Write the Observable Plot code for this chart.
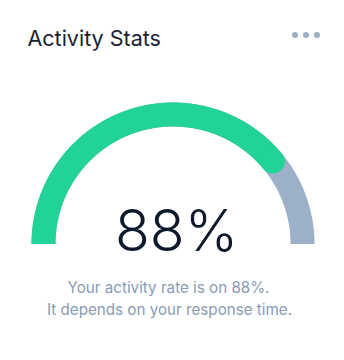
<!DOCTYPE html>
<html>
<head>
<meta charset="utf-8">
<script src="https://cdn.jsdelivr.net/npm/d3@7"></script>
<script src="https://cdn.jsdelivr.net/npm/@observablehq/plot@0.6"></script>
<style>
  html, body { margin: 0; padding: 0; background: #ffffff; }
  #card { position: relative; width: 344px; height: 360px; overflow: hidden; font-family: Inter, "Noto Sans", sans-serif; }
  #menu { position: absolute; top: 32px; left: 292px; display: flex; gap: 5.5px; }
  #menu span { width: 5.5px; height: 5.5px; border-radius: 50%; background: #9eb0c6; display: block; }
</style>
</head>
<body>
<div id="card"><div id="menu"><span></span><span></span><span></span></div></div>
<script>
// ---- data ----
const title = "Activity Stats";
const rate = 88;                 // value printed in the gauge
const gaugeFilled = [78];        // share of the half circle drawn green (read from the arc)
const gaugeTrack = [100];        // full track
const caption = ["Your activity rate is on 88%.", "It depends on your response time."];

// ---- geometry helpers (share -> point on unit half circle) ----
function arcPoints(share) {
  const n = 240;
  return d3.range(n + 1).map(i => {
    const f = (share * i / n) / 100;
    const a = Math.PI * (1 - f);
    return { x: Math.cos(a), y: Math.sin(a) };
  });
}
function endPoint(share) {
  const a = Math.PI * (1 - share / 100);
  return { x: Math.cos(a), y: Math.sin(a) };
}

const W = 344, H = 360, cx = 172.5, cy = 243.5, R = 129.5;
const green = "#21d396", gray = "#9cb1c8";

const chart = Plot.plot({
  width: W, height: H,
  margin: 0,
  x: { domain: [-cx / R, (W - cx) / R], axis: null },
  y: { domain: [-(H - cy) / R, cy / R], axis: null },
  style: { fontFamily: "Inter, 'Noto Sans', sans-serif", background: "#ffffff", overflow: "visible" },
  marks: [
    Plot.line(arcPoints(gaugeTrack[0]), { x: "x", y: "y", stroke: gray, strokeWidth: 24, strokeLinecap: "butt" }),
    Plot.line(arcPoints(gaugeFilled[0]), { x: "x", y: "y", stroke: green, strokeWidth: 24, strokeLinecap: "butt" }),
    Plot.dot([endPoint(gaugeFilled[0])], { x: "x", y: "y", r: 12, fill: green }),
    Plot.text([rate], { text: d => `${d}%`, frameAnchor: "top", dx: 4, dy: 250, lineAnchor: "bottom",
      fontSize: 57, fill: "#0e1a2c", fontWeight: 300 }),
    Plot.text([title], { frameAnchor: "top-left", dx: 27, dy: 45.5, lineAnchor: "bottom", textAnchor: "start",
      fontSize: 21.5, fill: "#1a2336", fontWeight: 400 }),
    Plot.text([caption[0]], { frameAnchor: "top", dx: -4, dy: 292.5, lineAnchor: "bottom",
      fontSize: 15.2, fill: "#8a9bb3" }),
    Plot.text([caption[1]], { frameAnchor: "top", dx: -3, dy: 314.5, lineAnchor: "bottom",
      fontSize: 15.2, fill: "#8a9bb3" })
  ]
});
document.getElementById("card").prepend(chart);
</script>
</body>
</html>
